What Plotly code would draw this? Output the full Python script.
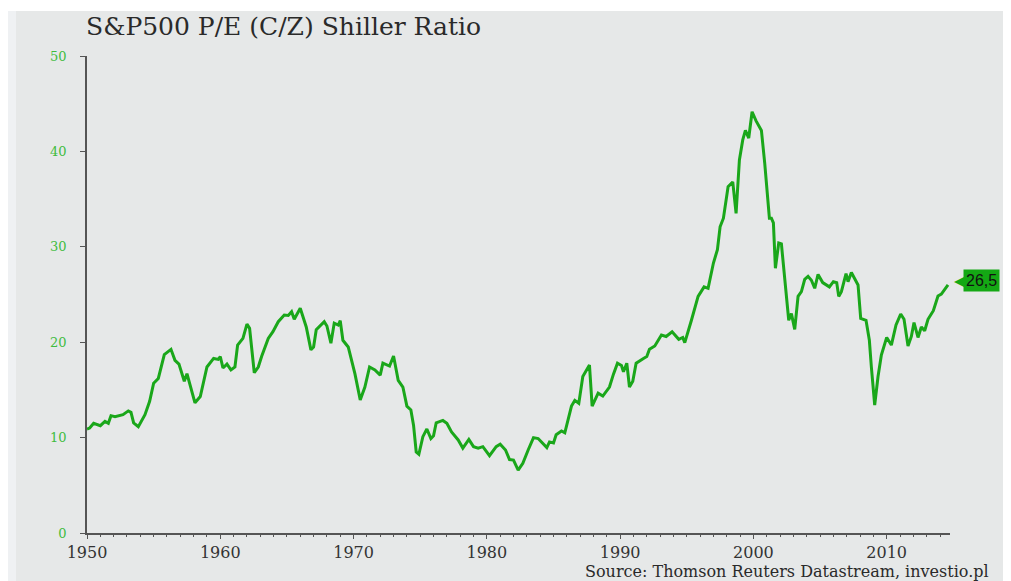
import plotly.graph_objects as go

# Shiller P/E (CAPE) for the S&P 500
years = [
    1950.0, 1950.2, 1950.5, 1951.0, 1951.35, 1951.6, 1951.8, 1952.1, 1952.7, 1953.1,
    1953.3, 1953.5, 1953.85, 1954.35, 1954.7, 1955.0, 1955.35, 1955.8, 1956.3, 1956.6,
    1956.9, 1957.3, 1957.5, 1958.1, 1958.5, 1959.0, 1959.5, 1959.85, 1960.0, 1960.2,
    1960.5, 1960.8, 1961.1, 1961.3, 1961.7, 1962.0, 1962.2, 1962.55, 1962.85, 1963.1,
    1963.6, 1963.95, 1964.35, 1964.8, 1965.1, 1965.35, 1965.55, 1966.0, 1966.45, 1966.8,
    1967.0, 1967.2, 1967.8, 1968.0, 1968.3, 1968.55, 1968.85, 1969.0, 1969.2, 1969.6,
    1970.1, 1970.5, 1970.85, 1971.2, 1971.6, 1972.0, 1972.2, 1972.7, 1973.0, 1973.35,
    1973.7, 1974.0, 1974.3, 1974.5, 1974.7, 1974.9, 1975.2, 1975.5, 1975.8, 1976.0,
    1976.2, 1976.7, 1977.0, 1977.35, 1977.85, 1978.2, 1978.65, 1979.0, 1979.35, 1979.7,
    1980.2, 1980.7, 1981.0, 1981.4, 1981.7, 1982.0, 1982.35, 1982.7, 1983.1, 1983.5,
    1983.85, 1984.5, 1984.7, 1985.0, 1985.2, 1985.6, 1985.85, 1986.35, 1986.6, 1986.9,
    1987.2, 1987.7, 1987.9, 1988.35, 1988.7, 1989.2, 1989.5, 1989.8, 1990.1, 1990.25,
    1990.5, 1990.7, 1990.95, 1991.2, 1991.75, 1992.0, 1992.2, 1992.6, 1993.1, 1993.45,
    1993.9, 1994.4, 1994.7, 1994.85, 1995.35, 1995.85, 1996.3, 1996.6, 1997.0, 1997.3,
    1997.5, 1997.75, 1998.1, 1998.45, 1998.7, 1998.95, 1999.2, 1999.4, 1999.65, 1999.9,
    2000.2, 2000.6, 2000.85, 2001.2, 2001.35, 2001.5, 2001.65, 2001.9, 2002.1, 2002.35,
    2002.65, 2002.85, 2003.1, 2003.35, 2003.6, 2003.85, 2004.1, 2004.35, 2004.6, 2004.85,
    2005.2, 2005.7, 2006.0, 2006.25, 2006.4, 2006.6, 2006.95, 2007.1, 2007.35, 2007.85,
    2008.05, 2008.45, 2008.7, 2008.85, 2009.1, 2009.35, 2009.6, 2010.0, 2010.35, 2010.7,
    2011.05, 2011.3, 2011.6, 2011.85, 2012.05, 2012.35, 2012.6, 2012.85, 2013.1, 2013.5,
    2013.85, 2014.1, 2014.6,
]
pe_ratio = [
    10.9, 11.0, 11.5, 11.25, 11.7, 11.5, 12.3, 12.2, 12.4, 12.8,
    12.65, 11.55, 11.15, 12.4, 13.8, 15.7, 16.2, 18.7, 19.25, 18.1,
    17.7, 15.9, 16.7, 13.65, 14.3, 17.4, 18.3, 18.2, 18.5, 17.3,
    17.7, 17.1, 17.4, 19.7, 20.4, 21.9, 21.45, 16.8, 17.4, 18.5,
    20.4, 21.1, 22.15, 22.85, 22.8, 23.2, 22.4, 23.55, 21.6, 19.2,
    19.5, 21.3, 22.15, 21.7, 19.9, 22.0, 21.8, 22.25, 20.2, 19.5,
    16.7, 13.95, 15.3, 17.4, 17.1, 16.55, 17.8, 17.5, 18.55, 16.0,
    15.3, 13.3, 12.9, 11.3, 8.5, 8.25, 10.1, 10.9, 9.9, 10.2,
    11.55, 11.8, 11.5, 10.6, 9.75, 8.9, 9.8, 9.05, 8.9, 9.05,
    8.1, 9.05, 9.3, 8.7, 7.7, 7.65, 6.6, 7.3, 8.7, 10.0,
    9.9, 8.95, 9.55, 9.45, 10.3, 10.7, 10.5, 13.3, 13.9, 13.6,
    16.4, 17.6, 13.3, 14.65, 14.35, 15.3, 16.65, 17.8, 17.55, 16.9,
    17.8, 15.3, 15.9, 17.8, 18.3, 18.5, 19.25, 19.6, 20.75, 20.6,
    21.1, 20.3, 20.5, 19.95, 22.3, 24.8, 25.8, 25.65, 28.3, 29.7,
    32.1, 33.0, 36.3, 36.8, 33.5, 39.1, 41.2, 42.2, 41.4, 44.15,
    43.2, 42.2, 38.75, 33.0, 33.0, 32.5, 27.75, 30.4, 30.3, 26.9,
    22.3, 23.0, 21.35, 24.8, 25.3, 26.6, 26.9, 26.5, 25.65, 27.1,
    26.25, 25.8, 26.35, 26.25, 24.8, 25.3, 27.2, 26.35, 27.3, 26.0,
    22.5, 22.3, 20.2, 17.4, 13.4, 16.4, 18.65, 20.5, 19.7, 21.8,
    22.95, 22.4, 19.6, 20.6, 22.05, 20.5, 21.6, 21.2, 22.4, 23.3,
    24.85, 25.05, 26.0,
]
decade_ticks = [1950, 1960, 1970, 1980, 1990, 2000, 2010]
last_label = "26,5"

BG = "#e6e8e8"
GREEN = "#1aa71a"
SERIF = "DejaVu Serif, Liberation Serif, serif"

# the page body adds an 8px offset, so the layout is shifted by that much
W, H = 1019, 589
L, T, PW, PH = 79, 48, 863, 477

fig = go.Figure()
fig.add_trace(go.Scatter(
    x=years, y=pe_ratio, mode="lines",
    line=dict(color=GREEN, width=3),
    hoverinfo="x+y", showlegend=False,
))

# green tag with the latest value
fig.add_annotation(
    x=years[-1], y=pe_ratio[-1], xref="x", yref="y",
    text=last_label, showarrow=False, xanchor="left", yanchor="middle",
    xshift=15, yshift=4, bgcolor="#14a814", borderpad=2,
    font=dict(family="Liberation Sans, Arial, sans-serif", size=16, color="#111"),
)
fig.add_annotation(
    x=years[-1], y=pe_ratio[-1], xref="x", yref="y",
    text="◀", showarrow=False, xanchor="left", yanchor="middle",
    xshift=4, yshift=4,
    font=dict(family="DejaVu Sans", size=15, color="#14a814"),
)

fig.add_annotation(
    x=(583 - 87) / PW, y=(533 - 571) / PH, xref="paper", yref="paper",
    text="Source: Thomson Reuters Datastream, investio.pl", showarrow=False,
    xanchor="left", yanchor="middle",
    font=dict(family=SERIF, size=16, color="#2a2a2a"),
)

# white strip at the top and pale strip at the left edge, as in the screenshot
fig.add_shape(type="rect", xref="paper", yref="paper", layer="below",
              x0=-0.2, x1=1.2, y0=(T + PH - 3) / PH, y1=1.3,
              fillcolor="white", line_width=0)
fig.add_shape(type="rect", xref="paper", yref="paper", layer="below",
              x0=-0.2, x1=(8 - L) / PW, y0=-0.2, y1=(T + PH - 3) / PH,
              fillcolor="#eff1f3", line_width=0)

fig.update_layout(
    width=W, height=H,
    margin=dict(l=L, r=W - L - PW, t=T, b=H - T - PH),
    paper_bgcolor=BG, plot_bgcolor=BG,
    title=dict(
        text="S&P500 P/E (C/Z) Shiller Ratio",
        x=78 / W, xanchor="left", xref="container",
        y=1 - 18 / H, yanchor="middle", yref="container",
        font=dict(family=SERIF, size=25, color="#2a2a2a"),
    ),
    xaxis=dict(
        range=[1950, 2014.75], tickvals=decade_ticks,
        showgrid=False, zeroline=False,
        showline=True, linecolor="#555", linewidth=1.5,
        ticks="outside", ticklen=4, tickcolor="#555", tickwidth=1,
        minor=dict(dtick=1, tick0=1950, ticks="outside", ticklen=2, tickcolor="#555"),
        tickfont=dict(family=SERIF, size=16, color="#333"),
    ),
    yaxis=dict(
        range=[0, 50], dtick=10,
        showgrid=False, zeroline=False,
        showline=True, linecolor="#555", linewidth=1.5,
        ticks="outside", ticklen=5, tickcolor="#555", tickwidth=1,
        ticklabelstandoff=11,
        tickfont=dict(family=SERIF, size=13, color="#3fbc3f"),
    ),
)

fig.write_html("out.html")
